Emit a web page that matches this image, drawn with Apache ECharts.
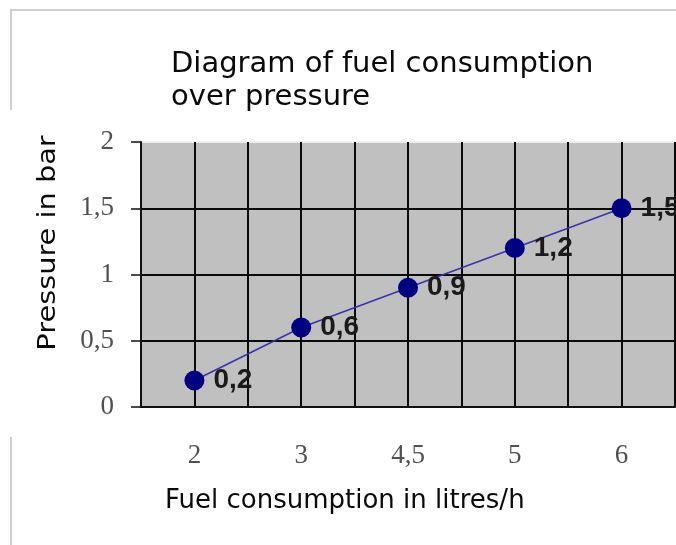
<!DOCTYPE html>
<html>
<head>
<meta charset="utf-8">
<script src="https://cdn.jsdelivr.net/npm/echarts@6/dist/echarts.min.js"></script>
<style>
  html, body { margin: 0; padding: 0; background: #fff; }
  #main { width: 676px; height: 545px; }
</style>
</head>
<body>
<div id="main"></div>
<script>
// fuel consumption (l/h) on x, pressure (bar) on y
const categories = ['2', '3', '4,5', '5', '6'];
const pressure = [0.2, 0.6, 0.9, 1.2, 1.5];
const yTicks = [0, 0.5, 1, 1.5, 2];

const comma = v => String(v).replace('.', ',');

const chartDom = document.getElementById('main');
const myChart = echarts.init(chartDom);

const frame = { stroke: '#cfcfcf', lineWidth: 2 };

const option = {
  backgroundColor: '#fff',
  animation: false,
  title: {
    text: 'Diagram of fuel consumption\nover pressure',
    left: 166,
    top: 43,
    textStyle: {
      fontFamily: 'DejaVu Sans',
      fontSize: 29,
      fontWeight: 'normal',
      color: '#0a0a0a',
      lineHeight: 33
    }
  },
  grid: {
    left: 141,
    right: 1,
    top: 142,
    bottom: 138,
    show: true,
    backgroundColor: '#c0c0c0',
    borderWidth: 0
  },
  xAxis: [
    {
      type: 'category',
      data: categories,
      boundaryGap: true,
      axisLine: { lineStyle: { color: '#111', width: 2 } },
      axisTick: { length: 9, lineStyle: { color: '#111', width: 1.5 } },
      axisLabel: {
        fontFamily: 'Liberation Serif',
        fontSize: 27,
        color: '#505050',
        margin: 35
      },
      splitLine: { show: false }
    },
    {
      // only here for the grid lines every half category
      type: 'value',
      min: 0,
      max: 5,
      interval: 0.5,
      position: 'bottom',
      axisLine: { show: false },
      axisTick: { show: false },
      axisLabel: { show: false },
      splitLine: { show: true, lineStyle: { color: '#0a0a0a', width: 2 } }
    }
  ],
  yAxis: {
    type: 'value',
    min: yTicks[0],
    max: yTicks[yTicks.length - 1],
    interval: 0.5,
    axisLine: { show: true, lineStyle: { color: '#111', width: 2 } },
    axisTick: { show: true, length: 10, lineStyle: { color: '#111', width: 1.5 } },
    axisLabel: {
      fontFamily: 'Liberation Serif',
      fontSize: 27,
      color: '#505050',
      margin: 27,
      formatter: comma
    },
    splitLine: {
      lineStyle: { color: ['#0a0a0a', '#0a0a0a', '#0a0a0a', '#0a0a0a', '#eeeeee'], width: 2 }
    }
  },
  series: [
    {
      type: 'line',
      xAxisIndex: 0,
      data: pressure,
      symbol: 'circle',
      symbolSize: 20,
      itemStyle: { color: '#000080' },
      lineStyle: { color: '#3535a8', width: 1.5 },
      label: {
        show: true,
        position: 'right',
        distance: 9,
        formatter: p => comma(p.value),
        fontFamily: 'Liberation Sans',
        fontWeight: 'bold',
        fontSize: 28,
        color: '#1a1a1a'
      }
    }
  ],
  graphic: [
    // left y-axis title
    {
      type: 'text',
      x: 61,
      y: 243,
      rotation: Math.PI / 2,
      scaleX: 1.2,
      style: {
        text: 'Pressure in bar',
        font: '24px "DejaVu Sans"',
        fill: '#0a0a0a',
        align: 'center',
        verticalAlign: 'bottom'
      }
    },
    // x-axis title
    {
      type: 'text',
      left: 165,
      top: 488,
      style: {
        text: 'Fuel consumption in litres/h',
        font: '26px "DejaVu Sans"',
        fill: '#0a0a0a'
      }
    },
    // outer frame bits
    { type: 'line', shape: { x1: 10, y1: 10, x2: 676, y2: 10 }, style: frame },
    { type: 'line', shape: { x1: 11, y1: 10, x2: 11, y2: 110 }, style: frame },
    { type: 'line', shape: { x1: 11, y1: 437, x2: 11, y2: 545 }, style: frame }
  ]
};

option && myChart.setOption(option);
</script>
</body>
</html>
